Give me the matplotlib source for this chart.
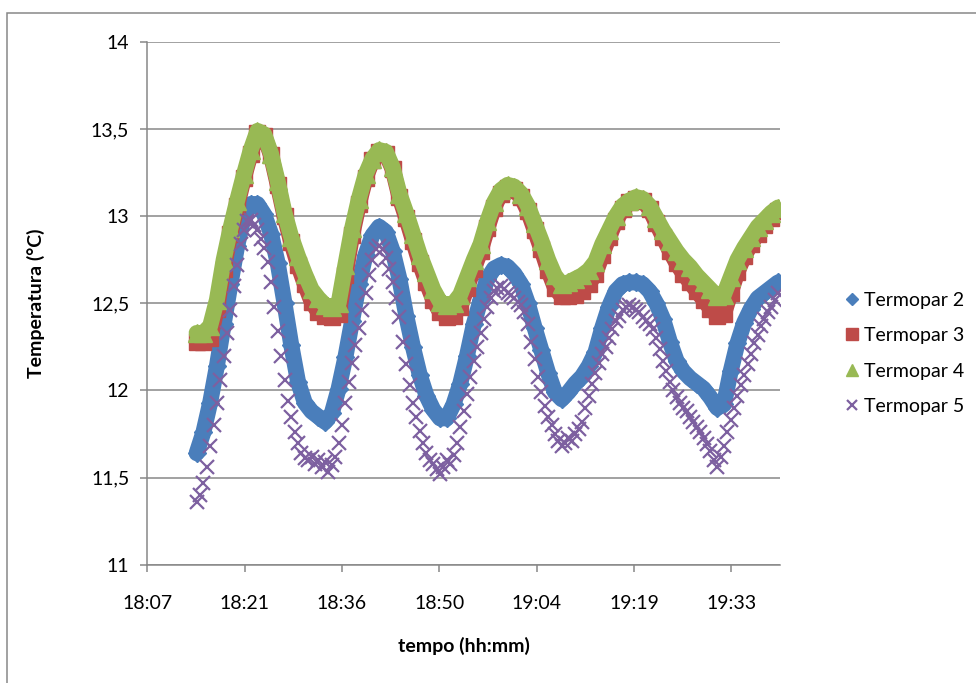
import matplotlib
matplotlib.use('Agg')
import matplotlib.pyplot as plt
from matplotlib.patches import Rectangle
from matplotlib.ticker import FuncFormatter
import pandas as pd
import numpy as np

plt.rcParams['font.family'] = ['Lato', 'DejaVu Sans']

# temperatures (degC), one value per minute from 18:14:30
termopar2 = [11.64, 11.76, 11.93, 12.14, 12.38, 12.61, 12.83, 13.00, 13.07, 13.07,
             13.01, 12.90, 12.73, 12.50, 12.26, 12.05, 11.93, 11.88, 11.85, 11.82,
             11.87, 12.01, 12.19, 12.40, 12.61, 12.78, 12.89, 12.94, 12.91, 12.80,
             12.64, 12.43, 12.25, 12.09, 11.97, 11.89, 11.84, 11.84, 11.92, 12.04,
             12.20, 12.38, 12.52, 12.64, 12.70, 12.72, 12.71, 12.67, 12.61, 12.50,
             12.36, 12.23, 12.10, 11.99, 11.95, 11.99, 12.04, 12.08, 12.14, 12.22,
             12.36, 12.48, 12.57, 12.61, 12.62, 12.62, 12.61, 12.57, 12.50, 12.41,
             12.28, 12.17, 12.11, 12.07, 12.04, 12.01, 11.96, 11.90, 11.92, 12.11,
             12.27, 12.39, 12.47, 12.53, 12.56, 12.59, 12.62]

termopar3 = [12.28, 12.28, 12.30, 12.47, 12.70, 12.90, 13.06, 13.22, 13.36, 13.48,
             13.46, 13.35, 13.18, 13.00, 12.85, 12.72, 12.61, 12.51, 12.45, 12.43,
             12.42, 12.44, 12.66, 12.89, 13.07, 13.22, 13.32, 13.37, 13.36, 13.27,
             13.11, 12.99, 12.86, 12.73, 12.62, 12.52, 12.45, 12.42, 12.43, 12.48,
             12.59, 12.70, 12.80, 12.93, 13.05, 13.13, 13.16, 13.15, 13.11, 13.03,
             12.92, 12.81, 12.69, 12.59, 12.54, 12.54, 12.55, 12.57, 12.61, 12.67,
             12.78, 12.88, 12.97, 13.04, 13.08, 13.10, 13.09, 13.04, 12.96, 12.88,
             12.80, 12.73, 12.67, 12.62, 12.57, 12.52, 12.47, 12.43, 12.44, 12.56,
             12.68, 12.77, 12.84, 12.90, 12.95, 12.99, 13.03]

termopar4 = [12.33, 12.33, 12.37, 12.52, 12.75, 12.93, 13.09, 13.24, 13.38, 13.49,
             13.47, 13.36, 13.20, 13.02, 12.88, 12.77, 12.67, 12.58, 12.53, 12.49,
             12.48, 12.50, 12.72, 12.93, 13.10, 13.24, 13.33, 13.38, 13.37, 13.28,
             13.13, 13.02, 12.90, 12.78, 12.68, 12.58, 12.51, 12.49, 12.50, 12.55,
             12.65, 12.75, 12.84, 12.97, 13.08, 13.15, 13.18, 13.17, 13.13, 13.06,
             12.96, 12.86, 12.75, 12.66, 12.61, 12.62, 12.64, 12.66, 12.69, 12.74,
             12.84, 12.92, 13.00, 13.06, 13.09, 13.11, 13.10, 13.06, 12.99, 12.92,
             12.86, 12.80, 12.75, 12.71, 12.66, 12.62, 12.58, 12.54, 12.55, 12.65,
             12.75, 12.82, 12.88, 12.94, 12.98, 13.02, 13.05]

# termopar 5 every 30 s from 18:14:30
termopar5 = [11.36, 11.40, 11.47, 11.56, 11.68, 11.80, 11.93, 12.06, 12.20, 12.33,
             12.46, 12.60, 12.72, 12.84, 12.92, 12.97, 12.98, 12.95, 12.92, 12.87,
             12.82, 12.74, 12.62, 12.48, 12.34, 12.20, 12.06, 11.94, 11.85, 11.76,
             11.70, 11.64, 11.61, 11.60, 11.62, 11.58, 11.60, 11.56, 11.59, 11.53,
             11.57, 11.62, 11.70, 11.80, 11.93, 12.05, 12.16, 12.26, 12.36, 12.46,
             12.56, 12.66, 12.75, 12.81, 12.83, 12.81, 12.76, 12.70, 12.62, 12.53,
             12.42, 12.28, 12.15, 12.03, 11.93, 11.85, 11.77, 11.70, 11.64, 11.60,
             11.58, 11.55, 11.52, 11.56, 11.60, 11.58, 11.63, 11.70, 11.79, 11.88,
             11.98, 12.08, 12.17, 12.25, 12.33, 12.41, 12.48, 12.53, 12.57, 12.59,
             12.60, 12.58, 12.56, 12.55, 12.53, 12.51, 12.49, 12.45, 12.38, 12.28,
             12.18, 12.08, 11.99, 11.91, 11.85, 11.80, 11.75, 11.71, 11.68, 11.70,
             11.73, 11.71, 11.75, 11.78, 11.82, 11.90, 11.97, 12.04, 12.10, 12.16,
             12.21, 12.25, 12.30, 12.35, 12.40, 12.43, 12.46, 12.48, 12.49, 12.48,
             12.46, 12.45, 12.42, 12.40, 12.38, 12.35, 12.30, 12.24, 12.17, 12.11,
             12.05, 12.00, 11.96, 11.93, 11.90, 11.88, 11.85, 11.82, 11.79, 11.76,
             11.73, 11.69, 11.65, 11.60, 11.56, 11.62, 11.68, 11.76, 11.83, 11.90,
             11.97, 12.03, 12.09, 12.15, 12.21, 12.27, 12.32, 12.37, 12.41, 12.45,
             12.48, 12.52, 12.56]

labels = ['Termopar 2', 'Termopar 3', 'Termopar 4', 'Termopar 5']
colors = ['#4A7EBB', '#BE4B48', '#98B954', '#7D60A0']


def day_fraction(idx):
    # excel style time: fraction of a day
    return ((idx - idx.normalize()).total_seconds() / 86400).values


t_min = day_fraction(pd.date_range('2010-01-01 18:14:30', periods=len(termopar2), freq='1min'))
t_30s = day_fraction(pd.date_range('2010-01-01 18:14:30', periods=len(termopar5), freq='30s'))

fig = plt.figure(figsize=(9.76, 6.83), dpi=100)
ax = fig.add_axes([0.1509, 0.1732, 0.6483, 0.7653])

# thick line under the markers so the band stays closed (data logger was dense)
series = [(termopar2, 'D', 9), (termopar3, 's', 12), (termopar4, '^', 13)]
for i, (y, m, ms) in enumerate(series):
    ax.plot(t_min, y, color=colors[i], lw=11.5, solid_capstyle='round',
            solid_joinstyle='round', zorder=2 + i)
    ax.plot(t_min, y, m, ms=ms, color=colors[i], mec=colors[i], label=labels[i], zorder=2.5 + i)
ax.plot(t_30s, termopar5, 'x', ms=10.5, mew=1.6, color=colors[3], label=labels[3], zorder=6)

ax.set_xlim(0.755, 0.82)
ax.set_ylim(11, 14)
ax.set_xticks([0.755 + 0.01 * i for i in range(7)])
ax.set_yticks(np.arange(11, 14.01, 0.5))
ax.xaxis.set_major_formatter(FuncFormatter(lambda x, p: '%d:%02d' % divmod(int(np.floor(x * 1440 + 1e-6)), 60)))
ax.yaxis.set_major_formatter(FuncFormatter(lambda v, p: ('%g' % v).replace('.', ',')))

grid_c = '#878787'
ax.grid(axis='y', color=grid_c, lw=1.1, zorder=0)
ax.set_axisbelow(True)
for s in ['top', 'right']:
    ax.spines[s].set_visible(False)
for s in ['left', 'bottom']:
    ax.spines[s].set_color(grid_c)
    ax.spines[s].set_linewidth(1.1)
ax.tick_params(axis='both', colors=grid_c, labelcolor='black', labelsize=14, length=5, width=1.1)
ax.tick_params(axis='x', pad=17)
ax.tick_params(axis='y', pad=8)

ax.set_xlabel('tempo (hh:mm)', fontsize=14, fontweight='bold', labelpad=18)
ax.set_ylabel('Temperatura (°C)', fontsize=14, fontweight='bold', labelpad=33)

fig.legend(loc='center left', bbox_to_anchor=(0.8647, 0.4827), frameon=False, fontsize=14,
           handlelength=0.8, handletextpad=0.25, labelspacing=0.95, borderpad=0, borderaxespad=0,
           markerscale=0.68)

# chart area border (cut off by the screenshot on the right and bottom)
fig.add_artist(Rectangle((0.0072, -0.1), 1.2, 0.9814 + 0.1, transform=fig.transFigure,
                         fill=False, edgecolor=grid_c, lw=1.1))

fig.savefig('out.png', dpi=100)
